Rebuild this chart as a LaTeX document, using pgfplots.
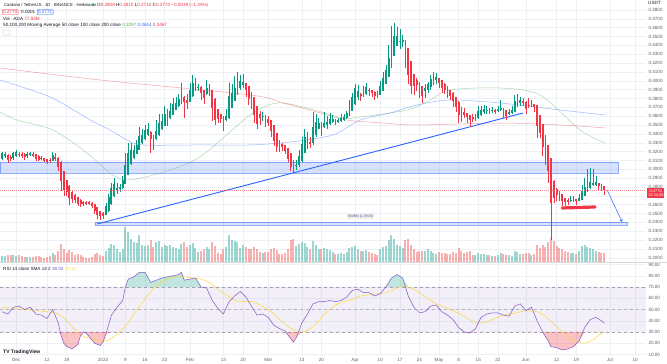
\documentclass[border=0pt]{standalone}
\usepackage{fontspec}
\setmainfont{Liberation Sans}
\usepackage{pgfplots}
\usepackage{pgfplotstable}
\pgfplotsset{compat=1.18}
\usetikzlibrary{arrows.meta}
\definecolor{up}{HTML}{089981}
\definecolor{dn}{HTML}{F23645}
\definecolor{vup}{HTML}{26A69A}
\definecolor{vdn}{HTML}{EF5350}
\definecolor{gridc}{HTML}{EDF0F5}
\definecolor{txt}{HTML}{131722}
\definecolor{lbl}{HTML}{5D606B}
\definecolor{maA}{HTML}{4CAF50}
\definecolor{maB}{HTML}{2962FF}
\definecolor{maC}{HTML}{F23645}
\definecolor{rsic}{HTML}{7E57C2}
\definecolor{rsima}{HTML}{FDD835}
\definecolor{zone}{HTML}{2962FF}
\newcommand\hdr{\fontsize{4.6}{5}\selectfont}

\pgfplotstableread{
d o h l c v
-36 .312 .320 .310 .318 180
-35 .315 .320 .313 .317 170
-34 .316 .317 .307 .311 220
-33 .3135 .316 .309 .312 200
-32 .3128 .320 .311 .318 210
-31 .3154 .322 .314 .319 190
-30 .3172 .320 .314 .317 200
-29 .3171 .319 .313 .316 170
-28 .3166 .318 .311 .314 160
-27 .3153 .319 .313 .317 150
-26 .3162 .320 .315 .318 160
-25 .3171 .319 .314 .316 150
-24 .3166 .317 .309 .312 190
-23 .3143 .316 .309 .311 170
-22 .3127 .315 .310 .312 140
-21 .3124 .313 .308 .310 130
-20 .3112 .312 .306 .309 160
-19 .3101 .313 .307 .310 170
-18 .3101 .320 .309 .316 260
-17 .3131 .318 .309 .313 220
-16 .3130 .314 .298 .303 330
-15 .308 .309 .275 .287 540
-14 .2975 .298 .270 .277 380
-13 .2873 .288 .270 .275 260
-12 .2811 .282 .260 .268 360
-11 .2746 .276 .262 .267 300
-10 .2708 .272 .262 .266 220
-9 .2684 .269 .258 .261 250
-8 .2647 .266 .257 .261 200
-7 .2629 .264 .259 .262 150
-6 .2624 .264 .260 .262 120
-5 .2622 .264 .260 .262 110
-4 .2621 .263 .256 .259 160
-3 .2606 .261 .249 .253 230
-2 .2568 .257 .244 .249 260
-1 .2529 .253 .243 .247 200
0 .2500 .252 .244 .248 170
1 .2490 .262 .248 .258 320
2 .2535 .272 .252 .268 420
3 .2608 .285 .260 .279 550
4 .2699 .290 .269 .283 520
5 .2764 .285 .272 .279 400
6 .2777 .283 .274 .280 300
7 .2789 .292 .278 .288 380
8 .2834 .318 .283 .305 1050
9 .2942 .330 .293 .318 900
10 .3061 .330 .305 .321 700
11 .3136 .328 .312 .322 600
12 .3178 .333 .317 .327 560
13 .3224 .348 .322 .337 800
14 .3297 .345 .329 .339 520
15 .3343 .350 .333 .344 480
16 .3392 .352 .338 .345 500
17 .3421 .343 .318 .334 650
18 .3381 .339 .322 .331 450
19 .3345 .356 .333 .343 600
20 .3388 .362 .338 .352 620
21 .3454 .362 .344 .354 450
22 .3497 .372 .349 .362 520
23 .3559 .368 .349 .361 480
24 .3584 .375 .357 .366 500
25 .3622 .380 .361 .373 460
26 .3676 .382 .367 .375 420
27 .3713 .385 .370 .379 400
28 .3752 .398 .374 .387 550
29 .3811 .383 .358 .376 600
30 .3785 .385 .368 .375 450
31 .3768 .398 .376 .389 520
32 .3829 .407 .382 .397 560
33 .3900 .403 .388 .396 430
34 .3930 .396 .389 .393 300
35 .3930 .394 .378 .386 320
36 .3895 .390 .374 .381 380
37 .3853 .401 .384 .391 450
38 .3881 .396 .383 .390 380
39 .3891 .390 .355 .369 600
40 .3790 .380 .350 .356 480
41 .3675 .368 .352 .357 280
42 .3623 .363 .352 .357 250
43 .3596 .360 .343 .352 400
44 .3558 .368 .355 .360 450
45 .3579 .398 .357 .382 800
46 .3700 .396 .369 .386 650
47 .3780 .405 .377 .392 620
48 .3850 .410 .384 .400 600
49 .3925 .406 .390 .399 420
50 .3958 .408 .392 .398 500
51 .3969 .398 .382 .390 450
52 .3935 .394 .373 .380 400
53 .3867 .387 .368 .375 380
54 .3809 .381 .352 .362 450
55 .3714 .372 .345 .352 400
56 .3617 .366 .350 .358 300
57 .3599 .365 .355 .360 280
58 .3600 .361 .348 .354 300
59 .3570 .360 .349 .353 300
60 .3550 .355 .337 .344 380
61 .3495 .350 .326 .332 420
62 .3408 .341 .320 .325 350
63 .3329 .333 .320 .324 250
64 .3284 .330 .321 .326 230
65 .3272 .328 .317 .321 260
66 .3241 .324 .308 .312 380
67 .3180 .318 .298 .303 650
68 .3103 .311 .2955 .299 700
69 .3047 .310 .299 .305 480
70 .3049 .322 .303 .315 550
71 .3100 .337 .308 .328 600
72 .3190 .345 .318 .336 560
73 .3275 .342 .323 .333 450
74 .3303 .336 .324 .330 380
75 .3301 .365 .328 .347 620
76 .3385 .362 .337 .353 500
77 .3457 .358 .345 .352 380
78 .3489 .353 .338 .348 400
79 .3484 .365 .347 .352 420
80 .3502 .360 .346 .353 380
81 .3516 .364 .350 .357 350
82 .3543 .361 .352 .357 300
83 .3557 .357 .350 .354 250
84 .3548 .358 .352 .355 230
85 .3549 .362 .353 .358 260
86 .3565 .362 .355 .359 250
87 .3577 .366 .357 .363 300
88 .3604 .378 .360 .372 420
89 .3662 .386 .366 .381 450
90 .3736 .396 .373 .391 480
91 .3823 .395 .378 .388 380
92 .3851 .386 .377 .383 320
93 .3840 .394 .382 .387 330
94 .3855 .398 .384 .393 350
95 .3893 .392 .383 .389 300
96 .3891 .390 .382 .386 260
97 .3876 .388 .378 .383 230
98 .3853 .389 .381 .384 220
99 .3847 .400 .384 .394 380
100 .3893 .410 .389 .403 450
101 .3962 .418 .396 .412 480
102 .4041 .440 .404 .425 650
103 .4145 .462 .414 .443 800
104 .4288 .465 .428 .450 700
105 .4394 .461 .439 .450 520
106 .4447 .459 .436 .445 480
107 .4448 .452 .438 .446 420
108 .4454 .446 .415 .428 650
109 .4367 .437 .396 .407 700
110 .4219 .422 .385 .394 520
111 .4079 .408 .384 .394 380
112 .4010 .403 .388 .395 300
113 .3980 .398 .380 .389 320
114 .3935 .394 .375 .383 340
115 .3883 .396 .380 .392 330
116 .3902 .399 .386 .396 380
117 .3931 .406 .390 .402 320
118 .3976 .410 .395 .405 260
119 .4013 .409 .396 .404 240
120 .4027 .403 .392 .398 300
121 .4003 .401 .386 .392 280
122 .3962 .397 .385 .390 270
123 .3931 .394 .381 .386 250
124 .3896 .390 .378 .383 240
125 .3863 .387 .370 .377 300
126 .3817 .382 .365 .371 280
127 .3763 .377 .352 .362 420
128 .3692 .370 .354 .360 330
129 .3646 .369 .358 .362 280
130 .3633 .364 .352 .359 300
131 .3608 .361 .348 .356 330
132 .3584 .362 .353 .357 220
133 .3577 .363 .355 .359 200
134 .3584 .372 .357 .366 260
135 .3622 .371 .360 .367 250
136 .3646 .373 .362 .368 240
137 .3663 .371 .363 .367 220
138 .3667 .369 .362 .366 200
139 .3663 .370 .364 .367 180
140 .3667 .368 .363 .366 170
141 .3663 .372 .365 .368 200
142 .3672 .378 .366 .369 260
143 .3681 .369 .358 .365 240
144 .3665 .367 .356 .361 220
145 .3638 .368 .361 .364 200
146 .3639 .371 .362 .367 190
147 .3655 .384 .365 .377 320
148 .3712 .385 .370 .379 300
149 .3751 .382 .372 .378 250
150 .3766 .380 .372 .376 230
151 .3763 .377 .362 .368 280
152 .3722 .380 .369 .372 260
153 .3721 .378 .370 .374 220
154 .3731 .374 .365 .371 250
155 .3720 .373 .335 .349 500
156 .3605 .361 .335 .341 420
157 .3508 .351 .315 .326 520
158 .3384 .339 .305 .315 450
159 .3267 .327 .285 .298 600
160 .3124 .313 .220 .262 720
161 .2870 .288 .262 .268 620
162 .2775 .279 .264 .271 480
163 .2743 .275 .264 .269 420
164 .2716 .272 .258 .264 380
165 .2678 .268 .258 .263 330
166 .2654 .268 .260 .264 300
167 .2647 .270 .263 .2655 280
168 .2651 .270 .263 .266 260
169 .2656 .266 .260 .264 250
170 .2648 .272 .264 .267 320
171 .2659 .282 .265 .275 480
172 .2705 .290 .270 .280 500
173 .2752 .300 .275 .283 450
174 .2791 .302 .278 .285 420
175 .2820 .300 .281 .284 380
176 .2830 .292 .281 .285 320
177 .2840 .285 .277 .281 300
178 .2825 .283 .275 .279 280
179 .2808 .281 .271 .277 260
}\ohlc

\pgfplotstableread{
d p
-36.8 .3647
-30.7 .3557
-17.9 .3444
-5.7 .3184
2.5 .2958
8.6 .2879
20.4 .2958
34.6 .3139
52.5 .3614
62.1 .3749
72.9 .3693
85.7 .3580
91.8 .3591
108.6 .3670
116.8 .3783
123.9 .3896
141.8 .3919
156 .3840
170.4 .3444
179.3 .3297
}\maA

\pgfplotstableread{
d p
-36.8 .4009
-18.9 .3817
-4.6 .3557
2.5 .3444
8.6 .3331
14.3 .3275
34.6 .3275
52.5 .3275
66.8 .3308
82.1 .3388
91.8 .3557
102.5 .3636
112.1 .3727
124 .3783
141.8 .3749
163.2 .3670
179.3 .3614
}\maB

\pgfplotstableread{
d p
-36.8 .4145
-1 .4009
52.5 .3840
64.3 .3749
76.4 .3647
87.1 .3557
100 .3523
112.1 .3501
141.8 .3523
163.2 .3501
179.3 .3467
}\maC

\pgfplotstableread{
d r
-36 48
-34 46
-32 52
-30 53
-28 50
-26 52
-24 46
-22 45
-20 42
-18 50
-16 38
-15 27
-14 20
-13 17
-11 15
-9 19
-8 27
-7 30
-6 29
-5 26
-3 20
-1 18
0 21
1 28
3 45
5 52
7 58
8 70
9 77
11 79
13 83
15 83
17 74
19 76
21 78
23 79
25 80
27 81
28 83
29 76
31 77
33 78
35 70
37 69
39 58
41 51
43 46
45 57
47 62
49 66
51 61
53 53
55 45
57 46
59 43
61 36
63 33
65 31
67 24
68 21
69 25
71 38
73 46
75 55
77 57
79 57
81 58
83 57
85 58
87 61
89 67
91 68
93 65
95 65
97 62
99 64
101 70
103 78
105 81
107 78
109 62
111 52
113 47
115 48
117 53
119 54
121 48
123 45
125 41
127 34
129 30
131 29
133 33
135 43
137 46
139 47
141 47
143 45
145 44
147 53
149 55
151 49
153 52
155 40
157 30
159 22
160 17
162 16
164 14
166 15
168 17
170 22
172 34
174 41
176 43
178 40
179 38
}\rsi

\pgfplotstableread{
d r
-36 52
-32 51
-28 50
-24 49
-20 48
-16 46
-13 40
-10 32
-7 26
-4 24
-1 22
2 23
5 28
8 35
11 46
14 56
17 66
20 73
23 77
26 79
29 79
32 78
35 77
38 74
41 68
44 63
47 58
50 57
53 57
56 54
59 50
62 44
65 37
68 32
71 30
74 33
77 40
80 48
83 54
86 57
89 59
92 62
95 63
98 64
101 65
104 68
107 71
110 69
113 65
116 60
119 55
122 52
125 49
128 45
131 41
134 38
137 39
140 42
143 45
146 46
149 48
152 49
155 48
158 44
161 37
164 30
167 24
170 21
172 20
175 23
177 27
179 30
}\rsima

\pgfplotsset{tvx/.style={xmin=-36.8, xmax=193.9, scale only axis, width=646pt, anchor=south west,
  axis line style={draw=none}, tick style={draw=none},
  xtick={-31,-20,-13,0,8,15,22,31,43,50,59,71,78,90,99,106,113,120,127,134,141,151,162,169,181,190},
  yticklabel pos=right,
  grid=major, major grid style={gridc, line width=0.4pt}, clip=true}}

\begin{document}
\begin{tikzpicture}
\path[use as bounding box] (0pt,0pt) rectangle (667pt,364pt);
\fill[white] (0pt,0pt) rectangle (667pt,364pt);

% ---------- price + volume ----------
\begin{axis}[tvx, name=P, at={(0pt,102pt)}, height=262pt, ymin=0.19525, ymax=0.4913,
  xticklabels={},
  ytick={0.20,0.21,0.22,0.23,0.24,0.25,0.26,0.27,0.28,0.29,0.30,0.31,0.32,0.33,0.34,0.35,0.36,0.37,0.38,0.39,0.40,0.41,0.42,0.43,0.44,0.45,0.46,0.47,0.48},
  yticklabel style={font=\hdr, text=lbl, anchor=west, xshift=-1pt,
    /pgf/number format/.cd, fixed, fixed zerofill, precision=4, assume math mode=true}]
% volume (scaled into the bottom of the pane)
\addplot[ycomb, vup, opacity=0.45, line width=2pt, mark=none,
  restrict expr to domain={\thisrow{c}-\thisrow{o}}{0:1}] table[x=d, y expr={0.19525+\thisrow{v}*0.000037666}] {\ohlc};
\addplot[ycomb, vdn, opacity=0.45, line width=2pt, mark=none,
  restrict expr to domain={\thisrow{c}-\thisrow{o}}{-1:-0.00001}] table[x=d, y expr={0.19525+\thisrow{v}*0.000037666}] {\ohlc};
% zones
\fill[zone, fill opacity=0.18] (axis cs:-36.8,0.2958) rectangle (axis cs:183.9,0.3083);
\draw[zone, opacity=0.5, line width=0.4pt] (axis cs:-36.8,0.2958) rectangle (axis cs:183.9,0.3083);
\fill[zone, fill opacity=0.18] (axis cs:-2.9,0.2371) rectangle (axis cs:187.1,0.2404);
\draw[zone, opacity=0.5, line width=0.4pt] (axis cs:-2.9,0.2371) rectangle (axis cs:187.1,0.2404);
\node[fill=gridc, text=lbl, inner sep=0.7pt, font=\fontsize{3.6}{4}\selectfont] at (axis cs:92,0.2470) {SWBN (1.5\%/5)};
% moving averages
\addplot[maA, opacity=0.45, line width=0.5pt, smooth, mark=none] table[x=d, y=p] {\maA};
\addplot[maB, opacity=0.45, line width=0.5pt, smooth, mark=none] table[x=d, y=p] {\maB};
\addplot[maC, opacity=0.45, line width=0.5pt, smooth, mark=none] table[x=d, y=p] {\maC};
% trend line
\draw[maB, line width=0.9pt] (axis cs:-2.1,0.2382) -- (axis cs:150,0.3636);
% candles: wicks
\addplot[draw=none, mark=none, restrict expr to domain={\thisrow{c}-\thisrow{o}}{0:1},
  error bars/.cd, y dir=both, y explicit, error mark=none,
  error bar style={draw=up, line width=0.45pt}]
  table[x=d, y expr={(\thisrow{h}+\thisrow{l})/2}, y error expr={(\thisrow{h}-\thisrow{l})/2}] {\ohlc};
\addplot[draw=none, mark=none, restrict expr to domain={\thisrow{c}-\thisrow{o}}{-1:-0.00001},
  error bars/.cd, y dir=both, y explicit, error mark=none,
  error bar style={draw=dn, line width=0.45pt}]
  table[x=d, y expr={(\thisrow{h}+\thisrow{l})/2}, y error expr={(\thisrow{h}-\thisrow{l})/2}] {\ohlc};
% candles: bodies
\addplot[draw=none, mark=none, restrict expr to domain={\thisrow{c}-\thisrow{o}}{0:1},
  error bars/.cd, y dir=both, y explicit, error mark=none,
  error bar style={draw=up, line width=1.9pt}]
  table[x=d, y expr={(\thisrow{o}+\thisrow{c})/2}, y error expr={abs(\thisrow{c}-\thisrow{o})/2+0.0003}] {\ohlc};
\addplot[draw=none, mark=none, restrict expr to domain={\thisrow{c}-\thisrow{o}}{-1:-0.00001},
  error bars/.cd, y dir=both, y explicit, error mark=none,
  error bar style={draw=dn, line width=1.9pt}]
  table[x=d, y expr={(\thisrow{o}+\thisrow{c})/2}, y error expr={abs(\thisrow{c}-\thisrow{o})/2+0.0003}] {\ohlc};
% current price line
\draw[dn!70, opacity=0.8, line width=0.25pt, dash pattern=on 0.5pt off 1.5pt] (axis cs:-36.8,0.277) -- (axis cs:193.9,0.277);
% annotations
\draw[maB, line width=0.5pt, -{Stealth[length=3pt,width=3pt]}] (axis cs:180,0.2766) -- (axis cs:185.4,0.2404);
\draw[dn, line width=3.2pt, line cap=round] (axis cs:164,0.2563) -- (axis cs:175.7,0.2574);
\end{axis}

% ---------- RSI ----------
\begin{axis}[tvx, name=R, at={(0pt,8pt)}, height=94pt, ymin=8.67, ymax=92.2,
  xticklabels={Dec,12,19,2023,9,16,23,Feb,13,20,Mar,13,20,Apr,10,17,24,May,8,15,22,Jun,12,19,Jul,10},
  xticklabel style={font=\hdr, text=lbl, anchor=base, yshift=-6pt},
  ytick={10,20,30,40,50,60,70,80,90},
  yticklabel style={font=\hdr, text=lbl, anchor=west, xshift=-1pt,
    /pgf/number format/.cd, fixed, fixed zerofill, precision=2, assume math mode=true}]
\fill[rsic, fill opacity=0.09] (axis cs:-36.8,30) rectangle (axis cs:193.9,70);
\draw[lbl, opacity=0.5, dashed, line width=0.3pt] (axis cs:-36.8,70) -- (axis cs:193.9,70);
\draw[lbl, opacity=0.35, dashed, line width=0.3pt] (axis cs:-36.8,50) -- (axis cs:193.9,50);
\draw[lbl, opacity=0.5, dashed, line width=0.3pt] (axis cs:-36.8,30) -- (axis cs:193.9,30);
\addplot[fill=up, fill opacity=0.25, draw=none] table[x=d, y expr={max(\thisrow{r},70)}] {\rsi} -- (axis cs:179,70) -- (axis cs:-36,70) -- cycle;
\addplot[fill=dn, fill opacity=0.3, draw=none] table[x=d, y expr={min(\thisrow{r},30)}] {\rsi} -- (axis cs:179,30) -- (axis cs:-36,30) -- cycle;
\addplot[rsima, line width=0.5pt, smooth, mark=none] table[x=d, y=r] {\rsima};
\addplot[rsic, line width=0.5pt, mark=none] table[x=d, y=r] {\rsi};
\end{axis}

% pane separator
\draw[black!15, line width=0.5pt] (0pt,102pt) -- (667pt,102pt);

% ---------- header texts ----------
\node[anchor=west, inner sep=0, font=\fontsize{4.2}{5}\selectfont, text=txt] at (4pt,359pt) {Cardano / TetherUS · 1D · BINANCE · Heikinashi};
\fill[up] (93pt,359pt) circle (1.1pt);
\node[anchor=west, inner sep=0, font=\hdr] at (97pt,359pt) {{\color{txt}O}\textcolor{dn}{0.2808} {\color{txt}H}\textcolor{dn}{0.2810} {\color{txt}L}\textcolor{dn}{0.2710} {\color{txt}C}\textcolor{dn}{0.2770} \textcolor{dn}{−0.0038 (−1.35\%)}};
\node[anchor=west, draw=dn, text=dn, inner sep=0.9pt, rounded corners=0.8pt, font=\hdr] at (2pt,352pt) {0.2770};
\node[anchor=west, inner sep=0, text=txt, font=\hdr] at (21pt,352pt) {0.0001};
\node[anchor=west, draw=maB, text=maB, inner sep=0.9pt, rounded corners=0.8pt, font=\hdr] at (37pt,352pt) {0.2771};
\node[anchor=west, inner sep=0, font=\hdr, text=txt] at (3pt,345pt) {Vol · ADA \textcolor{dn}{77.93M}};
\node[anchor=west, inner sep=0, font=\hdr, text=txt] at (3pt,339pt) {50,100,200 Moving Average 50 close 100 close 200 close \textcolor{maA}{0.3297} \textcolor{maB}{0.3614} \textcolor{maC}{0.3467}};
\draw[lbl!50, line width=0.3pt, rounded corners=0.5pt] (3pt,329pt) rectangle (10pt,334pt);
\node[anchor=west, inner sep=0, font=\hdr, text=txt] at (3pt,95pt) {RSI 14 close SMA 14 2 \textcolor{rsic}{38.00} \textcolor{rsima}{30.12}};
\node[anchor=west, inner sep=0, font=\fontsize{5}{5}\selectfont\bfseries, text=txt] at (3pt,12pt) {TV TradingView};
\node[anchor=west, inner sep=0, font=\hdr, text=txt] at (648pt,361pt) {USDT};
\node[anchor=west, fill=dn, text=white, inner sep=0.8pt, align=center, font=\fontsize{4}{4.6}\selectfont] at (647pt,171pt) {0.2770\\13:24:45};
\end{tikzpicture}
\end{document}
